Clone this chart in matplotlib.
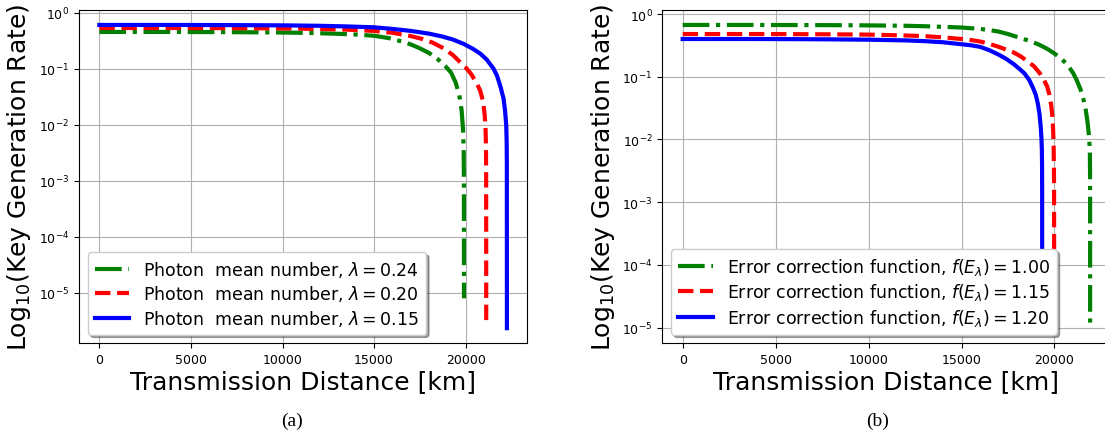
import matplotlib
matplotlib.use("Agg")
import matplotlib.pyplot as plt
from matplotlib.ticker import NullLocator

# ---------------- data: panel (a) ----------------
a_labels = [r"Photon  mean number, $\lambda = 0.24$",
            r"Photon  mean number, $\lambda = 0.20$",
            r"Photon  mean number, $\lambda = 0.15$"]

a_green_x = [0, 2000, 4000, 6000, 8000, 10000, 11500, 13000, 14000, 15000, 15800, 16500,
             17000, 17500, 18000, 18500, 18900, 19200, 19450, 19650, 19780, 19860, 19895,
             19906, 19910]
a_green_y = [0.45, 0.45, 0.45, 0.448, 0.445, 0.44, 0.432, 0.418, 0.405, 0.385, 0.35, 0.305,
             0.27, 0.23, 0.19, 0.145, 0.11, 0.085, 0.057, 0.034, 0.018, 0.008, 0.003,
             0.001, 8e-6]

a_red_x = [0, 2000, 4000, 6000, 8000, 10000, 12000, 13500, 15000, 16000, 17000, 17600,
           18200, 18800, 19300, 19700, 20000, 20300, 20600, 20800, 20950, 21040, 21090,
           21110, 21120, 21124]
a_red_y = [0.53, 0.53, 0.53, 0.528, 0.525, 0.52, 0.51, 0.495, 0.47, 0.435, 0.38, 0.34,
           0.29, 0.23, 0.175, 0.13, 0.105, 0.08, 0.055, 0.04, 0.026, 0.015, 0.008,
           0.004, 0.0012, 3e-6]

a_blue_x = [0, 2000, 4000, 6000, 8000, 10000, 12000, 13500, 15000, 16000, 17000, 18000,
            18700, 19300, 19900, 20400, 20800, 21150, 21520, 21710, 21900, 22070, 22150,
            22215, 22240, 22250, 22254]
a_blue_y = [0.60, 0.60, 0.60, 0.598, 0.595, 0.59, 0.58, 0.565, 0.545, 0.51, 0.47, 0.42,
            0.375, 0.33, 0.275, 0.225, 0.185, 0.145, 0.1, 0.075, 0.048, 0.029, 0.018,
            0.01, 0.005, 0.002, 2.35e-6]

# ---------------- data: panel (b) ----------------
b_labels = [r"Error correction function, $f(E_\lambda) = 1.00$",
            r"Error correction function, $f(E_\lambda) = 1.15$",
            r"Error correction function, $f(E_\lambda) = 1.20$"]

b_green_x = [0, 2000, 4000, 6000, 8000, 10000, 12000, 13000, 14000, 15000, 16000, 16500,
             17000, 17500, 17800, 18300, 18800, 19200, 19600, 20000, 20400, 20700, 21000,
             21200, 21400, 21550, 21680, 21780, 21850, 21885, 21905, 21914, 21918, 21919]
b_green_y = [0.67, 0.67, 0.67, 0.668, 0.665, 0.66, 0.65, 0.64, 0.625, 0.61, 0.58, 0.555,
             0.525, 0.48, 0.45, 0.405, 0.36, 0.322, 0.28, 0.235, 0.19, 0.155, 0.115,
             0.088, 0.063, 0.045, 0.03, 0.019, 0.012, 0.0085, 0.006, 0.003, 0.001, 9.8e-6]

b_red_x = [0, 2000, 4000, 6000, 8000, 10000, 12000, 13000, 14000, 15000, 15500, 16000,
           16500, 17000, 17500, 17800, 18200, 18600, 18900, 19200, 19450, 19600, 19720,
           19820, 19880, 19930, 19955, 19970, 19980, 19984]
b_red_y = [0.48, 0.48, 0.48, 0.478, 0.475, 0.47, 0.455, 0.445, 0.425, 0.40, 0.385, 0.365,
           0.335, 0.30, 0.265, 0.245, 0.21, 0.172, 0.147, 0.115, 0.087, 0.071, 0.053,
           0.036, 0.025, 0.014, 0.008, 0.004, 0.0015, 1.5e-5]

b_blue_x = [0, 2000, 4000, 6000, 8000, 10000, 12000, 13000, 14000, 15000, 15500, 16000,
            16500, 17000, 17400, 17800, 18100, 18400, 18650, 18850, 19000, 19100, 19200,
            19260, 19300, 19322, 19333, 19338, 19340]
b_blue_y = [0.40, 0.40, 0.40, 0.398, 0.395, 0.39, 0.38, 0.37, 0.355, 0.33, 0.318, 0.30,
            0.265, 0.225, 0.193, 0.16, 0.135, 0.112, 0.088, 0.066, 0.051, 0.038, 0.025,
            0.016, 0.0105, 0.007, 0.004, 0.0015, 2e-5]

xticks = [0, 5000, 10000, 15000, 20000]
xlabel = "Transmission Distance [km]"
ylabel = r"Log$_{10}$(Key Generation Rate)"

W, H = 1105, 435
fig = plt.figure(figsize=(W / 100, H / 100), dpi=100)

bottom = 1 - 344.3 / H
top = 1 - 10.8 / H
ax1 = fig.add_axes([79 / W, bottom, (527.3 - 79) / W, top - bottom])
ax2 = fig.add_axes([662.3 / W, bottom, (1110.5 - 662.3) / W, top - bottom])

styles = [dict(color="green", ls="-."), dict(color="red", ls="--"), dict(color="blue", ls="-")]

def draw(ax, series, labels):
    for (x, y), st, lab in zip(series, styles, labels):
        ax.plot(x, y, lw=3, label=lab, **st)
    ax.set_yscale("log")
    ax.yaxis.set_minor_locator(NullLocator())
    ax.set_xticks(xticks)
    ax.grid(True, color="#b0b0b0", lw=0.8)
    ax.set_axisbelow(True)
    ax.tick_params(labelsize=9)
    ax.set_xlabel(xlabel, fontsize=18, labelpad=2)
    ax.set_ylabel(ylabel, fontsize=18, labelpad=4)
    ax.legend(loc="lower left", fontsize=12.5, shadow=True, fancybox=True,
              framealpha=1.0, edgecolor="#cccccc", labelspacing=0.25)

draw(ax1, [(a_green_x, a_green_y), (a_red_x, a_red_y), (a_blue_x, a_blue_y)], a_labels)
draw(ax2, [(b_green_x, b_green_y), (b_red_x, b_red_y), (b_blue_x, b_blue_y)], b_labels)
ax2.spines["right"].set_visible(False)

fig.text(292 / W, 1 - 421 / H, "(a)", ha="center", va="center",
         family="Liberation Serif", fontsize=14)
fig.text(878 / W, 1 - 421 / H, "(b)", ha="center", va="center",
         family="Liberation Serif", fontsize=14)

fig.savefig("out.png", dpi=100)
